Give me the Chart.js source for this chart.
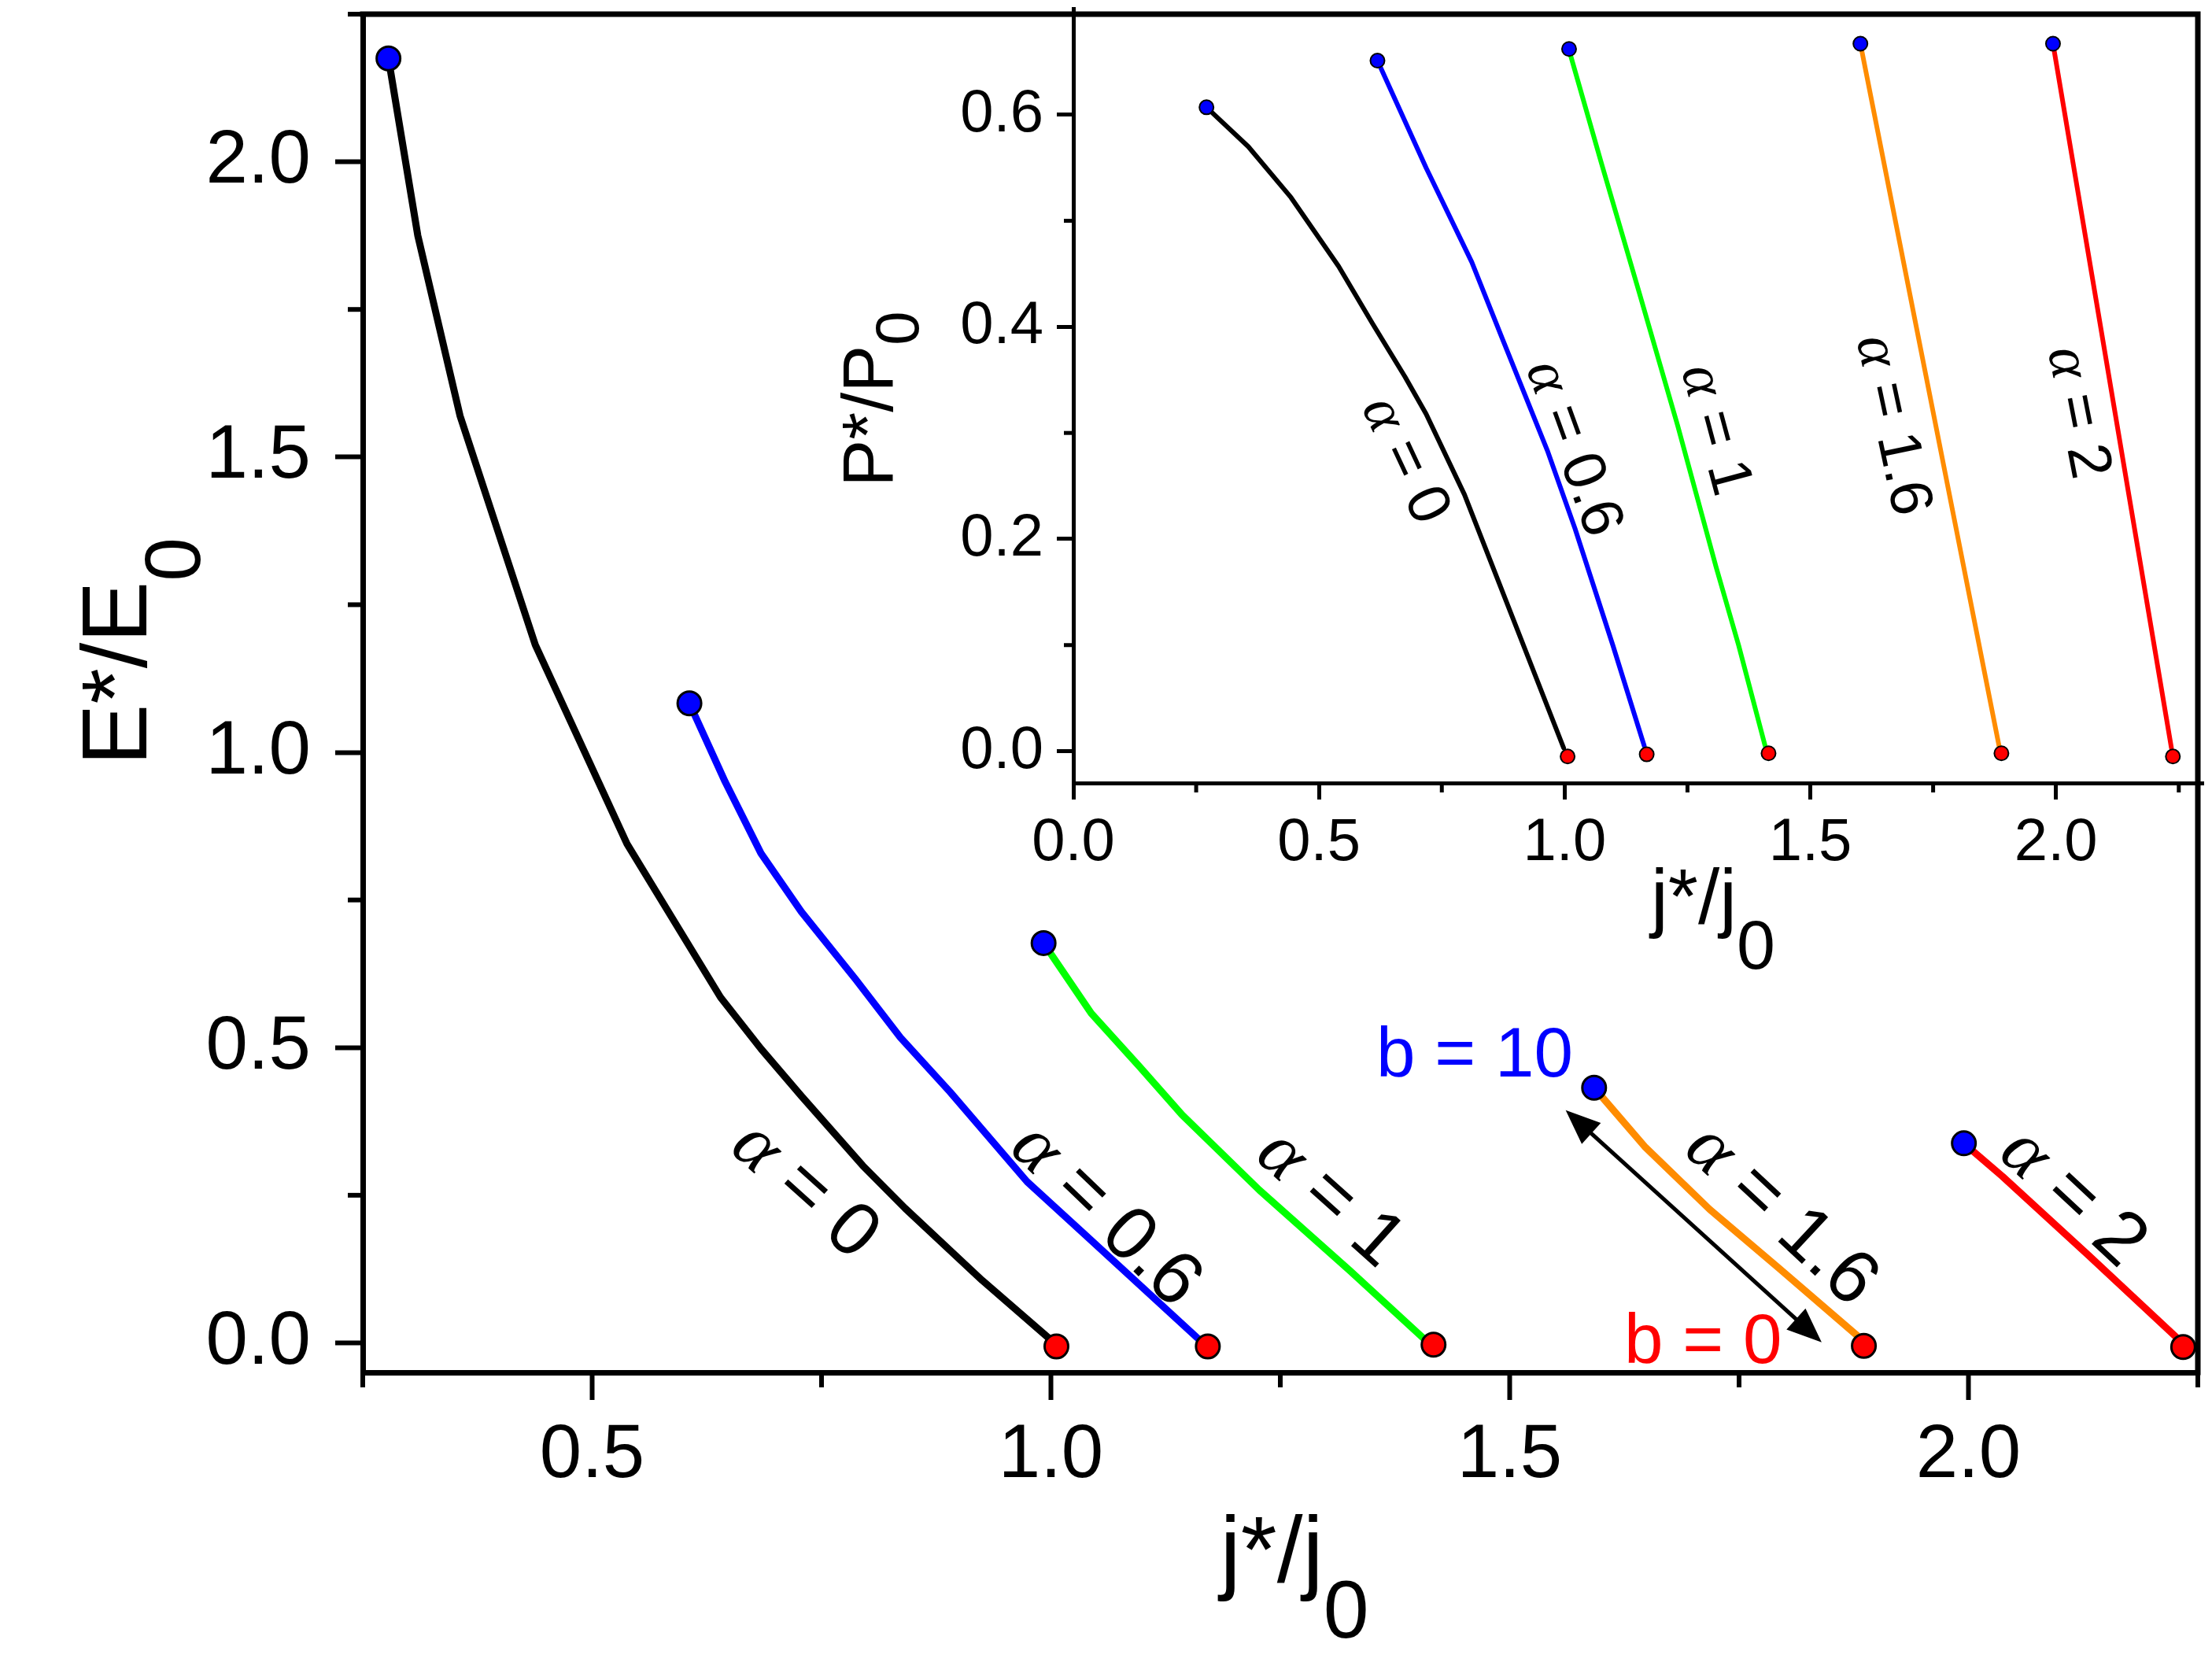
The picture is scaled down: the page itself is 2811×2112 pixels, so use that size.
<!DOCTYPE html>
<html><head><meta charset="utf-8">
<script src="https://cdn.jsdelivr.net/npm/chart.js@4.4.1/dist/chart.umd.min.js"></script>
<style>
html,body{margin:0;padding:0;background:#fff;}
#wrap{position:relative;width:2811px;height:2112px;background:#fff;}
#main{position:absolute;left:0;top:0;}
#inset{position:absolute;left:1000px;top:0;}
</style></head><body>
<div id="wrap"><canvas id="main" width="2811" height="2112"></canvas><canvas id="inset" width="1811" height="1260"></canvas></div>
<script>
const FONT = '"Liberation Sans", Arial, sans-serif';
const GREEK = '"Liberation Serif", "Times New Roman", serif';

// ---------- main panel: E*/E0 vs j*/j0 ----------
const mainA0X  = [0.278, 0.310, 0.356, 0.438, 0.538, 0.640, 0.684, 0.728, 0.795, 0.841, 0.925, 1.000];
const mainA0Y  = [2.175, 1.875, 1.570, 1.182, 0.845, 0.585, 0.498, 0.418, 0.300, 0.228, 0.106, 0.005];
const mainA06X = [0.606, 0.645, 0.684, 0.728, 0.787, 0.836, 0.890, 0.974, 1.038, 1.162];
const mainA06Y = [1.083, 0.950, 0.829, 0.730, 0.616, 0.517, 0.425, 0.273, 0.182, 0.005];
const mainA1X  = [0.992, 1.044, 1.097, 1.143, 1.227, 1.326, 1.408];
const mainA1Y  = [0.677, 0.558, 0.467, 0.386, 0.259, 0.122, 0.005];
const mainA16X = [1.592, 1.648, 1.718, 1.793, 1.882];
const mainA16Y = [0.432, 0.331, 0.226, 0.127, 0.008];
const mainA2X  = [1.995, 2.037, 2.131, 2.229];
const mainA2Y  = [0.338, 0.282, 0.148, 0.006];
const mainB10X = [0.278, 0.606, 0.992, 1.592, 1.995];
const mainB10Y = [2.175, 1.083, 0.677, 0.432, 0.338];
const mainB0X  = [1.006, 1.171, 1.417, 1.886, 2.234];
const mainB0Y  = [-0.006, -0.006, -0.003, -0.005, -0.007];

const mainXMajor = [0.5, 1.0, 1.5, 2.0];
const mainXLabels = ['0.5', '1.0', '1.5', '2.0'];
const mainXMinor = [0.25, 0.75, 1.25, 1.75, 2.25];
const mainYMajor = [0, 0.5, 1.0, 1.5, 2.0];
const mainYLabels = ['0.0', '0.5', '1.0', '1.5', '2.0'];
const mainYMinor = [0.25, 0.75, 1.25, 1.75, 2.25];

// ---------- inset: P*/P0 vs j*/j0 ----------
const insA0X  = [0.271, 0.356, 0.443, 0.540, 0.609, 0.675, 0.718, 0.796, 0.998];
const insA0Y  = [0.607, 0.570, 0.522, 0.457, 0.403, 0.353, 0.318, 0.242, 0.003];
const insA06X = [0.619, 0.718, 0.811, 0.873, 0.966, 1.021, 1.098, 1.162];
const insA06Y = [0.651, 0.550, 0.461, 0.389, 0.282, 0.210, 0.100, 0.005];
const insA1X  = [1.009, 1.075, 1.152, 1.230, 1.308, 1.354, 1.408];
const insA1Y  = [0.661, 0.554, 0.432, 0.307, 0.174, 0.100, 0.005];
const insA16X = [1.602, 1.885];
const insA16Y = [0.667, 0.003];
const insA2X  = [1.994, 2.235];
const insA2Y  = [0.667, 0.003];
const insB10X = [0.271, 0.619, 1.009, 1.602, 1.994];
const insB10Y = [0.607, 0.651, 0.662, 0.667, 0.667];
const insB0X  = [1.006, 1.167, 1.415, 1.889, 2.238];
const insB0Y  = [-0.005, -0.003, -0.002, -0.002, -0.005];

const insXMajor = [0, 0.5, 1.0, 1.5, 2.0];
const insXLabels = ['0.0', '0.5', '1.0', '1.5', '2.0'];
const insXMinor = [0.25, 0.75, 1.25, 1.75, 2.25];
const insYMajor = [0, 0.2, 0.4, 0.6];
const insYLabels = ['0.0', '0.2', '0.4', '0.6'];
const insYMinor = [0.1, 0.3, 0.5];

// ---------- annotations (data coordinates) ----------
const mainAlphaText = ['0', '0.6', '1', '1.6', '2'];
const mainAlphaPos = [[0.736, 0.266], [1.064, 0.224], [1.3085, 0.2525], [1.800, 0.224], [2.118, 0.254]];
const mainAlphaAngle = [42, 44, 42, 43, 43];
const insAlphaPos = [[0.683, 0.276], [1.026, 0.287], [1.315, 0.304], [1.676, 0.308], [2.053, 0.320]];
const insAlphaAngle = [65, 70, 75, 78, 79];
const arrowFrom = [1.561, 0.394];
const arrowTo = [1.840, 0.001];
const b10Pos = [1.3547, 0.4505];
const b0Pos = [1.6248, -0.0344];

function pts(xs, ys) { return xs.map((x, i) => ({ x: x, y: ys[i] })); }

function lineDs(xs, ys, color, w) {
  return { data: pts(xs, ys), showLine: true, borderColor: color, backgroundColor: color,
    borderWidth: w, pointRadius: 0, tension: 0, order: 2, clip: false, borderJoinStyle: 'round', borderCapStyle: 'round' };
}
function dotDs(xs, ys, color, r, bw) {
  return { data: pts(xs, ys), showLine: false, backgroundColor: color, borderColor: '#000',
    borderWidth: bw, pointRadius: r, pointHoverRadius: r, order: 0, clip: false };
}

function axisCfg(o) {
  return {
    type: 'linear', position: o.pos, min: o.min, max: o.max,
    afterBuildTicks: s => {
      s.ticks = o.major.map(v => ({ value: v, major: true }))
        .concat(o.minor.map(v => ({ value: v, major: false })))
        .sort((a, b) => a.value - b.value);
    },
    afterFit: s => {
      if (o.pos === 'left') s.width = o.fit; else s.height = o.fit;
      s.paddingTop = 0; s.paddingBottom = 0; s.paddingLeft = 0; s.paddingRight = 0;
    },
    ticks: {
      autoSkip: false, maxRotation: 0, minRotation: 0, padding: o.pad, color: '#000',
      font: { family: FONT, size: o.fontSize },
      callback: v => { const i = o.major.findIndex(m => Math.abs(m - v) < 1e-9); return i >= 0 ? o.labels[i] : ''; }
    },
    grid: {
      display: true, drawOnChartArea: false, drawTicks: true, tickLength: o.majorLen, tickWidth: o.tickW,
      tickColor: c => (c.tick && c.tick.major) ? '#000' : 'rgba(0,0,0,0)'
    },
    border: { display: true, color: '#000', width: o.borderW },
    title: { display: false },
    _minor: o.minor, _minorLen: o.minorLen, _tickW: o.tickW
  };
}

function drawRuns(ctx, runs, x, y, angle, align) {
  ctx.save();
  ctx.translate(x, y);
  ctx.rotate(angle);
  let total = 0;
  runs.forEach(r => { ctx.font = r.font; r.w = ctx.measureText(r.text).width; total += r.w; });
  let cx = align === 'center' ? -total / 2 : (align === 'right' ? -total : 0);
  ctx.textBaseline = 'alphabetic';
  ctx.textAlign = 'left';
  runs.forEach(r => { ctx.font = r.font; ctx.fillStyle = r.color || '#000'; ctx.fillText(r.text, cx, r.dy || 0); cx += r.w; });
  ctx.restore();
}

function alphaRuns(val, size) {
  const dy = size * 0.36;
  return [
    { text: 'α', font: 'italic ' + size + 'px ' + GREEK, dy: dy },
    { text: ' = ' + val, font: size + 'px ' + FONT, dy: dy }
  ];
}

function minorTicks(chart) {
  const ctx = chart.ctx;
  ctx.save();
  ctx.strokeStyle = '#000';
  Object.values(chart.scales).forEach(s => {
    const o = s.options;
    if (!o._minor) return;
    ctx.lineWidth = o._tickW;
    o._minor.forEach(v => {
      const p = s.getPixelForValue(v);
      ctx.beginPath();
      if (s.position === 'left') { ctx.moveTo(s.right, p); ctx.lineTo(s.right - o._minorLen, p); }
      else { ctx.moveTo(p, s.top); ctx.lineTo(p, s.top + o._minorLen); }
      ctx.stroke();
    });
  });
  ctx.restore();
}

function frame(chart, w) {
  const ctx = chart.ctx, a = chart.chartArea;
  ctx.save();
  ctx.strokeStyle = '#000';
  ctx.lineWidth = w;
  ctx.lineCap = 'square';
  ctx.beginPath();
  ctx.moveTo(a.left, a.top); ctx.lineTo(a.right, a.top); ctx.lineTo(a.right, a.bottom);
  ctx.stroke();
  ctx.restore();
}

function arrowHead(ctx, x1, y1, x2, y2, len, hw) {
  const a = Math.atan2(y2 - y1, x2 - x1);
  const bx = x2 - len * Math.cos(a), by = y2 - len * Math.sin(a);
  ctx.beginPath();
  ctx.moveTo(x2, y2);
  ctx.lineTo(bx + hw * Math.sin(a), by - hw * Math.cos(a));
  ctx.lineTo(bx - hw * Math.sin(a), by + hw * Math.cos(a));
  ctx.closePath();
  ctx.fill();
}

const mainPlugin = {
  id: 'mainDecor',
  afterDraw(chart) {
    const ctx = chart.ctx, xs = chart.scales.x, ys = chart.scales.y;
    frame(chart, 7);
    minorTicks(chart);
    drawRuns(ctx, [
      { text: 'j*/j', font: '118px ' + FONT },
      { text: '0', font: '104px ' + FONT, dy: 71 }
    ], 1645, 2010, 0, 'center');
    drawRuns(ctx, [
      { text: 'E*/E', font: '117px ' + FONT },
      { text: '0', font: '100px ' + FONT, dy: 68 }
    ], 186, 828, -Math.PI / 2, 'center');
    mainAlphaText.forEach((t, i) => {
      const px = xs.getPixelForValue(mainAlphaPos[i][0]), py = ys.getPixelForValue(mainAlphaPos[i][1]);
      drawRuns(ctx, alphaRuns(t, 96), px, py, mainAlphaAngle[i] * Math.PI / 180, 'center');
    });
    drawRuns(ctx, [{ text: 'b = 10', font: '89px ' + FONT, color: '#0000FF' }],
      xs.getPixelForValue(b10Pos[0]), ys.getPixelForValue(b10Pos[1]), 0, 'left');
    drawRuns(ctx, [{ text: 'b = 0', font: '89px ' + FONT, color: '#FF0000' }],
      xs.getPixelForValue(b0Pos[0]), ys.getPixelForValue(b0Pos[1]), 0, 'left');
    const x1 = xs.getPixelForValue(arrowFrom[0]), y1 = ys.getPixelForValue(arrowFrom[1]);
    const x2 = xs.getPixelForValue(arrowTo[0]), y2 = ys.getPixelForValue(arrowTo[1]);
    const ang = Math.atan2(y2 - y1, x2 - x1), L = 44;
    ctx.save();
    ctx.strokeStyle = '#000'; ctx.fillStyle = '#000'; ctx.lineWidth = 5;
    ctx.beginPath();
    ctx.moveTo(x1 + (L - 4) * Math.cos(ang), y1 + (L - 4) * Math.sin(ang));
    ctx.lineTo(x2 - (L - 4) * Math.cos(ang), y2 - (L - 4) * Math.sin(ang));
    ctx.stroke();
    arrowHead(ctx, x1, y1, x2, y2, L, 18);
    arrowHead(ctx, x2, y2, x1, y1, L, 18);
    ctx.restore();
  }
};

const insetPlugin = {
  id: 'insetDecor',
  afterDraw(chart) {
    const ctx = chart.ctx, xs = chart.scales.x, ys = chart.scales.y;
    minorTicks(chart);
    drawRuns(ctx, [
      { text: 'j*/j', font: '98px ' + FONT },
      { text: '0', font: '88px ' + FONT, dy: 58 }
    ], 1177, 1173, 0, 'center');
    drawRuns(ctx, [
      { text: 'P*/P', font: '90px ' + FONT },
      { text: '0', font: '78px ' + FONT, dy: 33 }
    ], 134, 507, -Math.PI / 2, 'center');
    mainAlphaText.forEach((t, i) => {
      const px = xs.getPixelForValue(insAlphaPos[i][0]), py = ys.getPixelForValue(insAlphaPos[i][1]);
      drawRuns(ctx, alphaRuns(t, 76), px, py, insAlphaAngle[i] * Math.PI / 180, 'center');
    });
  }
};

const common = {
  responsive: false, maintainAspectRatio: false, animation: false, devicePixelRatio: 1, events: [],
  plugins: { legend: { display: false }, tooltip: { enabled: false } }
};

new Chart(document.getElementById('main'), {
  type: 'scatter',
  data: { datasets: [
    dotDs(mainB10X, mainB10Y, '#0000FF', 15, 3),
    dotDs(mainB0X, mainB0Y, '#FF0000', 15, 3),
    lineDs(mainA0X, mainA0Y, '#000000', 9),
    lineDs(mainA06X, mainA06Y, '#0000FF', 9),
    lineDs(mainA1X, mainA1Y, '#00FF00', 9),
    lineDs(mainA16X, mainA16Y, '#FF8C00', 9),
    lineDs(mainA2X, mainA2Y, '#FF0000', 9)
  ] },
  options: Object.assign({}, common, {
    layout: { padding: { left: 0, top: 8, right: 8, bottom: 0 } },
    scales: {
      x: axisCfg({ pos: 'bottom', min: 0.25, max: 2.25, major: mainXMajor, labels: mainXLabels, minor: mainXMinor,
        fit: 368, pad: 14, fontSize: 96, majorLen: 35, minorLen: 19, tickW: 6, borderW: 7 }),
      y: axisCfg({ pos: 'left', min: -0.05, max: 2.25, major: mainYMajor, labels: mainYLabels, minor: mainYMinor,
        fit: 461, pad: 31, fontSize: 96, majorLen: 35, minorLen: 19, tickW: 6, borderW: 7 })
    }
  }),
  plugins: [mainPlugin]
});

new Chart(document.getElementById('inset'), {
  type: 'scatter',
  data: { datasets: [
    dotDs(insB10X, insB10Y, '#0000FF', 9, 2),
    dotDs(insB0X, insB0Y, '#FF0000', 9, 2),
    lineDs(insA0X, insA0Y, '#000000', 6),
    lineDs(insA06X, insA06Y, '#0000FF', 6),
    lineDs(insA1X, insA1Y, '#00FF00', 6),
    lineDs(insA16X, insA16Y, '#FF8C00', 6),
    lineDs(insA2X, insA2Y, '#FF0000', 6)
  ] },
  options: Object.assign({}, common, {
    layout: { padding: { left: 0, top: 8, right: 8, bottom: 0 } },
    scales: {
      x: axisCfg({ pos: 'bottom', min: 0, max: 2.3, major: insXMajor, labels: insXLabels, minor: insXMinor,
        fit: 265, pad: 10, fontSize: 76, majorLen: 21, minorLen: 12, tickW: 5, borderW: 5 }),
      y: axisCfg({ pos: 'left', min: -0.03, max: 0.70, major: insYMajor, labels: insYLabels, minor: insYMinor,
        fit: 364, pad: 17, fontSize: 76, majorLen: 21, minorLen: 12, tickW: 5, borderW: 5 })
    }
  }),
  plugins: [insetPlugin]
});
</script>
</body></html>
